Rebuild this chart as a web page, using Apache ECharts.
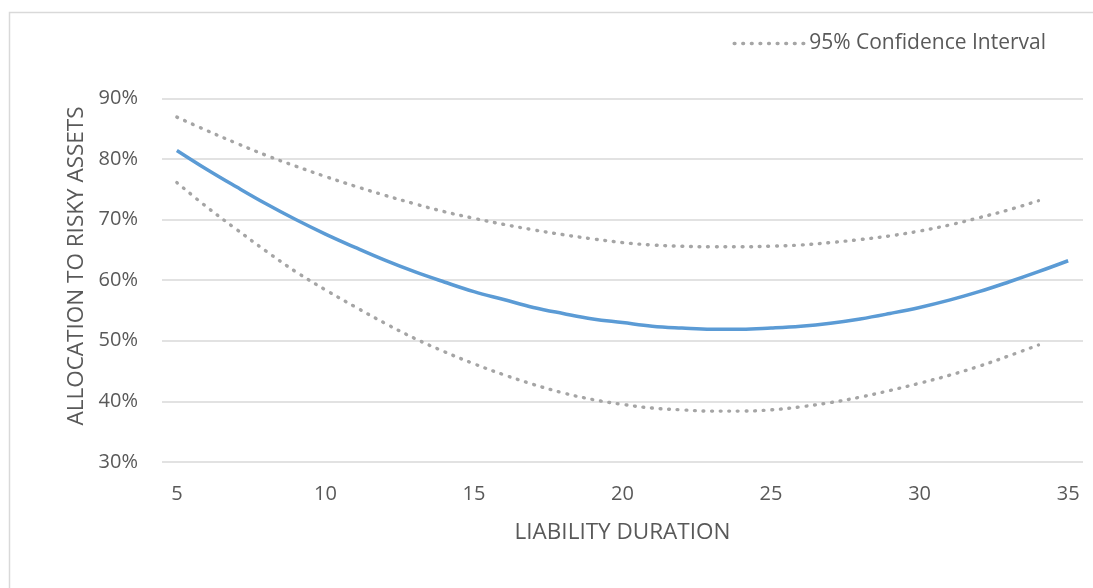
<!DOCTYPE html>
<html>
<head>
<meta charset="utf-8">
<script src="https://cdn.jsdelivr.net/npm/echarts@6/dist/echarts.min.js"></script>
<style>
html,body{margin:0;padding:0;background:#fff;}
#main{width:1093px;height:588px;}
</style>
</head>
<body>
<div id="main"></div>
<script>
var durations = ['5','6','7','8','9','10','11','12','13','14','15','16','17','18','19','20','21','22','23','24','25','26','27','28','29','30','31','32','33','34','35'];
var allocation = [81.4,78.3,75.4,72.6,70.0,67.6,65.4,63.3,61.4,59.7,58.1,56.8,55.5,54.5,53.6,53.0,52.4,52.1,51.9,51.9,52.1,52.4,52.9,53.6,54.5,55.5,56.7,58.1,59.7,61.4,63.2];
var upperCI = [86.9,84.7,82.6,80.6,78.8,77.1,75.5,74.0,72.6,71.3,70.2,69.2,68.3,67.5,66.8,66.2,65.8,65.6,65.5,65.5,65.6,65.8,66.2,66.7,67.3,68.1,69.1,70.3,71.6,73.1,null];
var lowerCI = [76.1,72.1,68.4,64.8,61.4,58.4,55.6,52.9,50.4,48.2,46.2,44.4,42.8,41.4,40.3,39.5,38.9,38.6,38.4,38.4,38.6,39.1,39.8,40.7,41.8,43.0,44.3,45.8,47.5,49.3,null];
var yTicks = {min: 30, max: 90, interval: 10};

var FONT = '"Open Sans", sans-serif';
var TXT = '#595959';
var chart = echarts.init(document.getElementById('main'), null, {renderer: 'canvas'});
var dotStyle = {color: '#a5a5a5', width: 3.4, type: [0.8, 7.8], cap: 'round'};
chart.setOption({
  animation: false,
  backgroundColor: '#fff',
  graphic: [
    {type: 'rect', left: 7, top: 10, shape: {width: 1100, height: 600},
     style: {fill: 'none', stroke: '#d9d9d9', lineWidth: 1.5}, silent: true},
    {type: 'text', x: 77, y: 266, rotation: Math.PI / 2,
     style: {text: 'ALLOCATION TO RISKY ASSETS', font: '22.5px ' + FONT, fill: TXT,
             textAlign: 'center', textVerticalAlign: 'middle'}}
  ],
  grid: {left: 162, right: 10, top: 98.3, bottom: 126},
  legend: {
    data: ['95% Confidence Interval'],
    right: 42, top: 28,
    itemWidth: 70, itemHeight: 10, itemGap: 10,
    textStyle: {fontFamily: FONT, fontSize: 21, color: TXT},
    itemStyle: {color: 'rgba(0,0,0,0)', borderWidth: 0, opacity: 0},
    lineStyle: dotStyle
  },
  xAxis: {
    type: 'category',
    data: durations,
    boundaryGap: true,
    axisLine: {show: false},
    axisTick: {show: false},
    axisLabel: {interval: 4, margin: 22, fontFamily: FONT, fontSize: 20, color: TXT},
    name: 'LIABILITY DURATION',
    nameLocation: 'middle',
    nameGap: 59,
    nameTextStyle: {fontFamily: FONT, fontSize: 22.5, color: TXT}
  },
  yAxis: {
    type: 'value',
    min: yTicks.min, max: yTicks.max, interval: yTicks.interval,
    axisLine: {show: false},
    axisTick: {show: false},
    axisLabel: {formatter: '{value}%', margin: 24, fontFamily: FONT, fontSize: 20, color: TXT},
    splitLine: {lineStyle: {color: '#d9d9d9', width: 1.5}}
  },
  series: [
    {name: '95% Confidence Interval', type: 'line', data: upperCI, smooth: 0.4,
     showSymbol: false, symbol: 'none', lineStyle: dotStyle, itemStyle: {color: '#a5a5a5'}},
    {name: '95% Confidence Interval ', type: 'line', data: lowerCI, smooth: 0.4,
     showSymbol: false, symbol: 'none', lineStyle: dotStyle, itemStyle: {color: '#a5a5a5'}},
    {name: 'Allocation', type: 'line', data: allocation, smooth: 0.4,
     showSymbol: false, symbol: 'none', lineStyle: {color: '#5b9bd5', width: 3.5}, itemStyle: {color: '#5b9bd5'}}
  ]
});
</script>
</body>
</html>
